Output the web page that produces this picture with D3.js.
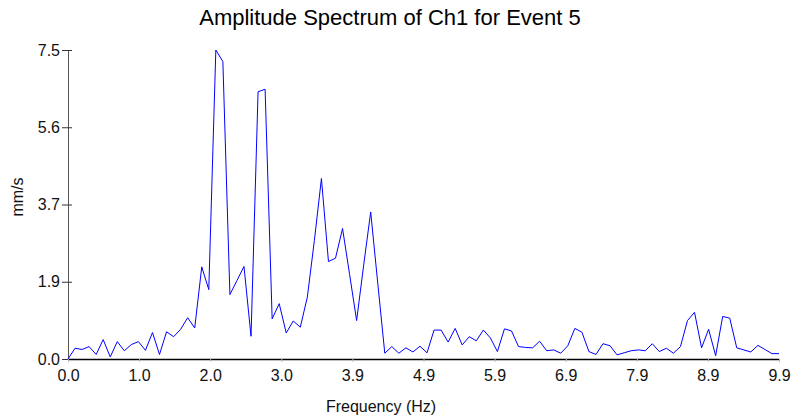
<!DOCTYPE html>
<html>
<head>
<meta charset="utf-8">
<script src="https://cdn.jsdelivr.net/npm/d3@7"></script>
<style>
  html, body { margin: 0; padding: 0; background: #fff; }
  svg { display: block; font-family: Arial, "Liberation Sans", sans-serif; }
</style>
</head>
<body>
<svg id="chart" width="792" height="419"></svg>
<script>
// ---- data ----
const chartTitle = "Amplitude Spectrum of Ch1 for Event 5";
const xLabel = "Frequency (Hz)";
const yLabel = "mm/s";
const freqStep = 0.0977; // Hz per spectral bin
const amplitudes = [
  0.00, 0.26, 0.23, 0.30, 0.11, 0.47, 0.05, 0.42, 0.20, 0.35,
  0.42, 0.21, 0.64, 0.11, 0.66, 0.54, 0.72, 1.00, 0.75, 2.23,
  1.68, 7.48, 7.20, 1.56, 1.90, 2.24, 0.55, 6.47, 6.53, 0.97,
  1.34, 0.63, 0.92, 0.77, 1.50, 2.87, 4.37, 2.36, 2.44, 3.16,
  2.05, 0.93, 2.27, 3.56, 1.84, 0.14, 0.30, 0.14, 0.27, 0.17,
  0.31, 0.15, 0.70, 0.70, 0.41, 0.74, 0.34, 0.54, 0.44, 0.70,
  0.51, 0.18, 0.73, 0.68, 0.30, 0.28, 0.27, 0.43, 0.20, 0.22,
  0.14, 0.32, 0.74, 0.65, 0.18, 0.11, 0.37, 0.32, 0.10, 0.15,
  0.20, 0.22, 0.20, 0.37, 0.18, 0.26, 0.14, 0.30, 0.93, 1.13,
  0.27, 0.72, 0.08, 1.03, 0.99, 0.27, 0.22, 0.17, 0.33, 0.23,
  0.13, 0.13
];
const xTickLabels = ["0.0","1.0","2.0","3.0","3.9","4.9","5.9","6.9","7.9","8.9","9.9"];
const yTickLabels = ["0.0","1.9","3.7","5.6","7.5"];

(function () {
  // ---- layout ----
  const svg = d3.select("#chart");
  const mLeft = 68, mRight = 779, mTop = 50, mBottom = 359;

  const freqs = amplitudes.map((_, i) => i * freqStep);
  const xMax = freqs[freqs.length - 1];
  const yMax = d3.max(amplitudes);

  const x = d3.scaleLinear().domain([0, xMax]).range([mLeft, mRight]);
  const y = d3.scaleLinear().domain([0, yMax]).range([mBottom, mTop]);

  const xTickVals = xTickLabels.map((_, i) => i * xMax / (xTickLabels.length - 1));
  const yTickVals = yTickLabels.map((_, i) => i * yMax / (yTickLabels.length - 1));

  const fontFam = "Arial, 'Liberation Sans', sans-serif";

  // y axis
  const yAxis = d3.axisLeft(y).tickValues(yTickVals)
    .tickFormat((d, i) => yTickLabels[i]).tickSize(6).tickSizeOuter(0).tickPadding(2);
  const gy = svg.append("g").attr("transform", `translate(${mLeft},0)`).call(yAxis);
  gy.select(".domain").attr("stroke", "#555").attr("stroke-width", 1);
  gy.selectAll(".tick line").attr("stroke", "#333").attr("x2", -6).attr("x1", 4);
  gy.selectAll(".tick text").attr("font-size", 16).attr("fill", "#111").attr("font-family", fontFam);

  // x axis
  const xAxis = d3.axisBottom(x).tickValues(xTickVals)
    .tickFormat((d, i) => xTickLabels[i]).tickSize(3).tickSizeOuter(0).tickPadding(8);
  const gx = svg.append("g").attr("transform", `translate(0,${mBottom})`).call(xAxis);
  gx.select(".domain").attr("stroke", "#000").attr("stroke-width", 1.6);
  gx.selectAll(".tick line").attr("stroke", "#bbb");
  gx.selectAll(".tick text").attr("font-size", 16).attr("fill", "#111").attr("font-family", fontFam);

  // line
  const line = d3.line().x((d, i) => x(freqs[i])).y(d => y(d));
  svg.append("path").datum(amplitudes)
    .attr("fill", "none").attr("stroke", "#0000ff").attr("stroke-width", 1)
    .attr("d", line);

  // title
  svg.append("text").attr("x", 390).attr("y", 25).attr("text-anchor", "middle")
    .attr("font-size", 22).attr("fill", "#000").text(chartTitle);

  // x label
  svg.append("text").attr("x", 381).attr("y", 412).attr("text-anchor", "middle")
    .attr("font-size", 16).attr("fill", "#111").text(xLabel);

  // y label
  svg.append("text").attr("transform", "translate(23,197) rotate(-90)")
    .attr("text-anchor", "middle").attr("font-size", 16).attr("fill", "#111").text(yLabel);
})();
</script>
</body>
</html>
